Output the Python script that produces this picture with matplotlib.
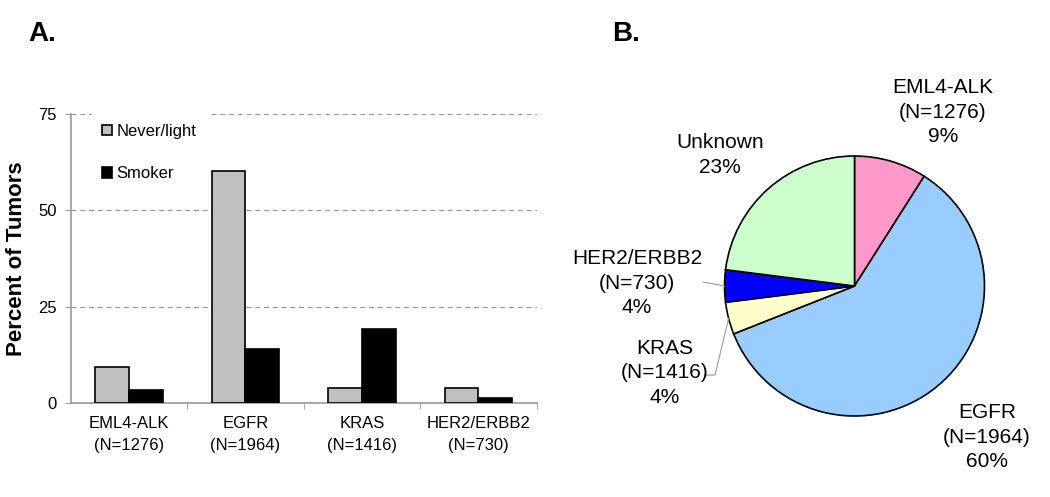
import matplotlib.pyplot as plt
import numpy as np

plt.rcParams['font.family'] = ['Liberation Sans', 'DejaVu Sans']

# A. 喫煙歴別の変異頻度
genes = ["EML4-ALK\n(N=1276)", "EGFR\n(N=1964)", "KRAS\n(N=1416)", "HER2/ERBB2\n(N=730)"]
never_light = [9.3, 60.2, 4.0, 4.0]
smoker = [3.3, 13.9, 19.3, 1.4]

# B. 全体の内訳
pie_labels = ["EML4-ALK\n(N=1276)\n9%", "EGFR\n(N=1964)\n60%", "KRAS\n(N=1416)\n4%",
              "HER2/ERBB2\n(N=730)\n4%", "Unknown\n23%"]
pie_values = [9, 60, 4, 4, 23]
pie_colors = ["#FF99CC", "#99CCFF", "#FFFFCC", "#0000FF", "#CCFFCC"]

fig = plt.figure(figsize=(10.5, 4.97), dpi=100)

# ---- 棒グラフ ----
ax = fig.add_axes([70.7 / 1050, 94 / 497, 466 / 1050, 289 / 497])
x = np.arange(len(genes))
w = 0.29
ax.bar(x - w / 2, never_light, w, color="#C0C0C0", edgecolor="black", linewidth=1.2,
       label="Never/light", zorder=3)
ax.bar(x + w / 2, smoker, w, color="black", edgecolor="black", linewidth=1.2,
       label="Smoker", zorder=3)

ax.set_xlim(-0.5, 3.5)
ax.set_ylim(0, 75)
ax.set_yticks([0, 25, 50, 75])
ax.set_xticks(x)
ax.set_xticklabels(genes, fontsize=12)
for t in ax.get_xticklabels():
    t.set_linespacing(1.6)
ax.set_xticks([0.5, 1.5, 2.5, 3.5], minor=True)
ax.tick_params(axis="x", which="major", length=0, pad=9)
ax.tick_params(axis="x", which="minor", length=4, color="#999999", direction="out")
ax.tick_params(axis="y", length=4, color="#999999", labelsize=12, pad=6)
ax.yaxis.grid(True, linestyle=(0, (4, 3)), color="#999999", linewidth=0.9, zorder=0)
ax.set_axisbelow(True)
for s in ["top", "right"]:
    ax.spines[s].set_visible(False)
for s in ["left", "bottom"]:
    ax.spines[s].set_color("#999999")
    ax.spines[s].set_linewidth(1.2)
ax.set_ylabel("Percent of Tumors", fontsize=16, fontweight="bold", labelpad=8)

leg = ax.legend(loc="upper left", bbox_to_anchor=(0.045, 1.0), fontsize=12,
                handlelength=0.6, handleheight=0.6, handletextpad=0.3,
                labelspacing=1.65, borderaxespad=0, borderpad=0.6,
                frameon=True, facecolor="white", edgecolor="white", framealpha=1,
                fancybox=False)
leg.set_zorder(2.5)

fig.text(28 / 1050, 1 - 34 / 497, "A.", fontsize=20, fontweight="bold", va="center")
fig.text(612 / 1050, 1 - 34 / 497, "B.", fontsize=20, fontweight="bold", va="center")

# ---- 円グラフ ----
ax2 = fig.add_axes([590 / 1050, 0, 460 / 1050, 1])
wedges, _ = ax2.pie(pie_values, colors=pie_colors, startangle=90, counterclock=False,
                    wedgeprops=dict(edgecolor="black", linewidth=1.2))
ax2.set_aspect("auto")
ax2.set_xlim(-2.035, 1.504)
ax2.set_ylim(-1.623, 2.2)
ax2.axis("off")

label_pos = [(0.681, 1.338), (1.019, -1.162), (-1.458, -0.669), (-1.673, 0.023), (-1.035, 1.008)]
for lab, (px, py) in zip(pie_labels, label_pos):
    ax2.text(px, py, lab, fontsize=15, ha="center", va="center", linespacing=1.38)

# 引き出し線 (HER2, KRAS)
def edge_point(wd):
    a = np.deg2rad((wd.theta1 + wd.theta2) / 2)
    return np.cos(a), np.sin(a)

hx, hy = edge_point(wedges[3])
ax2.plot([-1.165, hx], [0.031, hy], color="#999999", linewidth=0.8)
kx, ky = edge_point(wedges[2])
ax2.plot([-1.15, -1.073, kx], [-0.685, -0.685, ky], color="#999999", linewidth=0.8)

plt.savefig("out.png", dpi=100)
